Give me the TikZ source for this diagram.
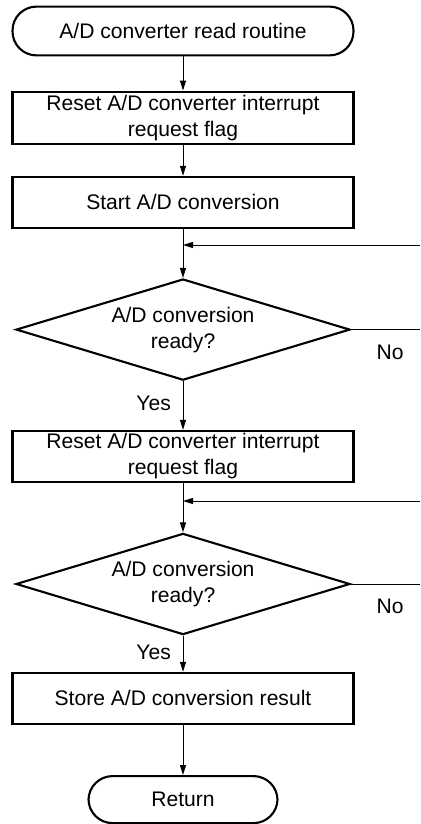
\documentclass[tikz,border=0pt]{standalone}
\usepackage{fontspec}
\setmainfont{Liberation Sans}
\usetikzlibrary{shapes.geometric,arrows.meta}
\begin{document}
\begin{tikzpicture}[
  font=\fontsize{15}{18.5}\selectfont,
  proc/.style={draw,line width=1.5pt,minimum width=8.525cm,minimum height=1.3cm,align=center,inner sep=0pt},
  term/.style={draw,line width=1.5pt,rounded corners=0.6cm,minimum height=1.22cm,inner sep=0pt},
  cond/.style={draw,diamond,line width=1.5pt,aspect=3.3,minimum width=8.35cm,minimum height=2.53cm,align=center,inner sep=0pt},
  arr/.style={-{Triangle[length=2.5mm,width=1.5mm]},line width=0.7pt},
  ln/.style={line width=0.7pt}]
\useasboundingbox (0,0) rectangle (10.5,20.6);
\node[term,minimum width=8.525cm] (start) at (4.575,19.825) {A/D converter read routine};
\node[proc] (reset1) at (4.575,17.66) {Reset A/D converter interrupt\\request flag};
\node[proc,minimum height=1.275cm] (convst) at (4.575,15.54) {Start A/D conversion};
\node[cond] (ready1) at (4.575,12.36) {A/D conversion\\ready?};
\node[proc,minimum height=1.275cm] (reset2) at (4.575,9.19) {Reset A/D converter interrupt\\request flag};
\node[cond] (ready2) at (4.575,6.0) {A/D conversion\\ready?};
\node[proc,minimum height=1.275cm] (store) at (4.575,3.14) {Store A/D conversion result};
\node[term,minimum width=4.725cm,minimum height=1.175cm] (ret) at (4.575,0.61) {Return};
\coordinate (back1) at (10.5,14.475);
\coordinate (no1) at (10.5,12.36);
\coordinate (back2) at (10.5,8.075);
\coordinate (no2) at (10.5,6.0);
\draw[arr] (start) -- (reset1);
\draw[arr] (reset1) -- (convst);
\draw[arr] (convst) -- (ready1);
\draw[arr] (back1) -- (back1 -| ready1.north);
\draw[ln] (ready1.east) -- (no1);
\node (nolab1) at (9.75,11.8) {No};
\draw[arr] (ready1) -- (reset2) node[pos=0.45,left=5pt] (yeslab1) {Yes};
\draw[arr] (reset2) -- (ready2);
\draw[arr] (back2) -- (back2 -| ready2.north);
\draw[ln] (ready2.east) -- (no2);
\node (nolab2) at (9.75,5.45) {No};
\draw[arr] (ready2) -- (store) node[pos=0.45,left=5pt] (yeslab2) {Yes};
\draw[arr] (store) -- (ret);
\end{tikzpicture}
\end{document}
